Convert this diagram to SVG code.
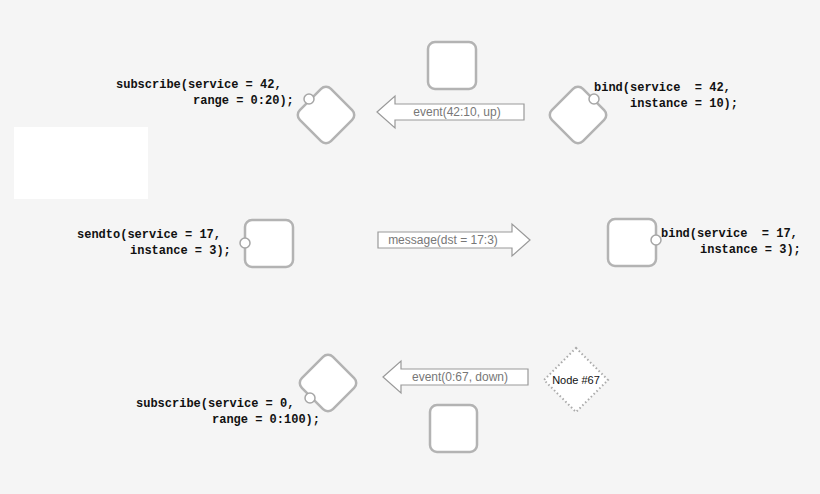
<svg xmlns="http://www.w3.org/2000/svg" width="820" height="494" viewBox="0 0 820 494">
<style>
.n{fill:#fff;stroke:#b3b3b3;stroke-width:2.5}
.p{fill:#fff;stroke:#a6a6a6;stroke-width:1.5}
.a{fill:#fff;stroke:#999;stroke-width:1.2}
.t{font-family:"Liberation Mono",monospace;font-weight:bold;font-size:12px;fill:#111;white-space:pre}
.l{font-family:"Liberation Sans",Arial,sans-serif;font-size:12px;fill:#777;text-anchor:middle}
</style>
<rect width="820" height="494" fill="#f5f5f5"/>
<rect x="14" y="127" width="134" height="72" fill="#fff"/>
<g id="n-sub42"><rect class="n" x="304" y="93" width="44" height="44" rx="7" transform="rotate(45 326 115)"/><circle class="p" cx="309" cy="99" r="5"/><text class="t" x="116" y="88" xml:space="preserve">subscribe(service = 42,</text><text class="t" x="193" y="104" xml:space="preserve">range = 0:20);</text></g>
<g id="n-top"><rect class="n" x="428" y="42" width="48" height="47" rx="7"/></g>
<g id="n-bind42"><rect class="n" x="556" y="93" width="44" height="44" rx="7" transform="rotate(45 578 115)"/><circle class="p" cx="594" cy="99" r="5"/><text class="t" x="594" y="91" xml:space="preserve">bind(service  = 42,</text><text class="t" x="630" y="107" xml:space="preserve">instance = 10);</text></g>
<g id="n-sendto"><rect class="n" x="245" y="220" width="48" height="47" rx="7"/><circle class="p" cx="245" cy="243" r="5"/><text class="t" x="77" y="238" xml:space="preserve">sendto(service = 17,</text><text class="t" x="130" y="254" xml:space="preserve">instance = 3);</text></g>
<g id="n-bind17"><rect class="n" x="608" y="219" width="48" height="47" rx="7"/><circle class="p" cx="656" cy="240" r="5"/><text class="t" x="661" y="237" xml:space="preserve">bind(service  = 17,</text><text class="t" x="700" y="253" xml:space="preserve">instance = 3);</text></g>
<g id="n-sub0"><rect class="n" x="306" y="361" width="44" height="44" rx="7" transform="rotate(45 328 383)"/><circle class="p" cx="310" cy="398" r="5"/><text class="t" x="136" y="407" xml:space="preserve">subscribe(service = 0,</text><text class="t" x="212" y="423" xml:space="preserve">range = 0:100);</text></g>
<g id="n-bottom"><rect class="n" x="430" y="405" width="47" height="47" rx="7"/></g>
<g id="n-67"><polygon points="576,348 608,380 576,412 544,380" fill="#fff" stroke="#aaa" stroke-width="2" stroke-dasharray="1.5,2.5"/><text x="576" y="384" font-family="Liberation Sans,Arial,sans-serif" font-size="11" text-anchor="middle" fill="#111">Node #67</text></g>
<g id="connectors">
<polygon class="a" points="377,112 395,96 395,104 524,104 524,120 395,120 395,128"/><text class="l" x="457" y="116">event(42:10, up)</text>
<polygon class="a" points="530,240 512,224 512,232 378,232 378,248 512,248 512,256"/><text class="l" x="443" y="244">message(dst = 17:3)</text>
<polygon class="a" points="383,377 401,361 401,369 528,369 528,385 401,385 401,393"/><text class="l" x="460" y="381">event(0:67, down)</text>
</g>
</svg>
